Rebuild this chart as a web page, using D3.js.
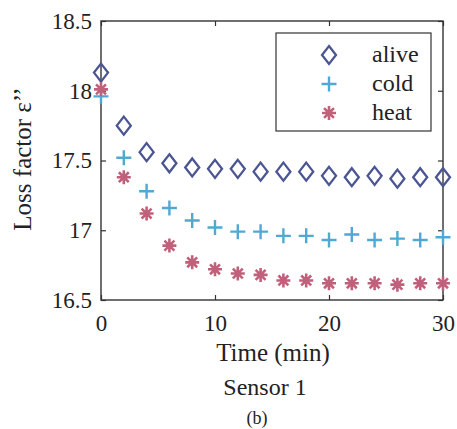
<!DOCTYPE html>
<html>
<head>
<meta charset="utf-8">
<script src="https://cdn.jsdelivr.net/npm/d3@7"></script>
<style>
  body { margin: 0; background: #fff; }
  svg text { font-family: "Liberation Serif", "Times New Roman", serif !important; fill: #222; }
</style>
</head>
<body>
<svg width="457" height="429"></svg>
<script>
// time points (min)
const times = [0, 2, 4, 6, 8, 10, 12, 14, 16, 18, 20, 22, 24, 26, 28, 30];
// loss factor values
const alive = [18.13, 17.75, 17.56, 17.48, 17.45, 17.44, 17.44, 17.42, 17.42, 17.42, 17.39, 17.38, 17.39, 17.37, 17.38, 17.38];
const cold = [17.96, 17.52, 17.28, 17.16, 17.07, 17.02, 16.99, 16.99, 16.96, 16.96, 16.93, 16.97, 16.93, 16.94, 16.93, 16.95];
const heat = [18.01, 17.38, 17.12, 16.89, 16.77, 16.72, 16.69, 16.68, 16.64, 16.64, 16.62, 16.62, 16.62, 16.61, 16.62, 16.62];
const xTicks = [0, 10, 20, 30];
const yTicks = [16.5, 17, 17.5, 18, 18.5];
const seriesNames = ['alive', 'cold', 'heat'];

const svg = d3.select('svg');
const margin = { left: 101, right: 14, top: 21, bottom: 129 };
const W = 457, H = 429;

const x = d3.scaleLinear().domain([0, 30]).range([margin.left, W - margin.right]);
const y = d3.scaleLinear().domain([16.5, 18.5]).range([H - margin.bottom, margin.top]);

const axisColor = '#333';

// frame
svg.append('rect')
  .attr('x', x(0)).attr('y', y(18.5))
  .attr('width', x(30) - x(0)).attr('height', y(16.5) - y(18.5))
  .attr('fill', 'none').attr('stroke', axisColor).attr('stroke-width', 1.4);

// axes with inward ticks
const gBottom = svg.append('g').attr('transform', `translate(0,${y(16.5)})`)
  .call(d3.axisBottom(x).tickValues(xTicks).tickSize(-5).tickPadding(15).tickFormat(d3.format('d')));
const gLeft = svg.append('g').attr('transform', `translate(${x(0)},0)`)
  .call(d3.axisLeft(y).tickValues(yTicks).tickSize(-5).tickPadding(9).tickFormat((d) => d3.format('')(d)));
const gTop = svg.append('g').attr('transform', `translate(0,${y(18.5)})`)
  .call(d3.axisTop(x).tickValues(xTicks).tickSize(-5).tickFormat(''));
const gRight = svg.append('g').attr('transform', `translate(${x(30)},0)`)
  .call(d3.axisRight(y).tickValues(yTicks).tickSize(-5).tickFormat(''));

[gBottom, gLeft, gTop, gRight].forEach((g) => {
  g.attr('font-family', null).attr('font-size', null);
  g.select('.domain').remove();
  g.selectAll('line').attr('stroke', axisColor).attr('stroke-width', 1.2);
  g.selectAll('text').style('font-size', '23px').attr('fill', '#222');
});

// marker shapes
const colors = { alive: '#4b5592', cold: '#4fa9d2', heat: '#c1607b' };

function drawMarker(g, name, cx, cy) {
  if (name === 'alive') {
    g.append('path')
      .attr('d', `M${cx},${cy - 9}L${cx + 7},${cy}L${cx},${cy + 9}L${cx - 7},${cy}Z`)
      .attr('fill', 'none').attr('stroke', colors.alive).attr('stroke-width', 2.3);
  } else if (name === 'cold') {
    g.append('path')
      .attr('d', `M${cx - 7.5},${cy}H${cx + 7.5}M${cx},${cy - 7.5}V${cy + 7.5}`)
      .attr('stroke', colors.cold).attr('stroke-width', 2.4);
  } else {
    const r = 7;
    let d = '';
    for (let i = 0; i < 4; i++) {
      const a = (i * Math.PI) / 4;
      d += `M${cx - r * Math.sin(a)},${cy - r * Math.cos(a)}L${cx + r * Math.sin(a)},${cy + r * Math.cos(a)}`;
    }
    g.append('path').attr('d', d)
      .attr('stroke', colors.heat).attr('stroke-width', 2.6);
  }
}

const data = { alive: alive, cold: cold, heat: heat };
const marks = svg.append('g');
seriesNames.forEach((name) => {
  times.forEach((t, i) => drawMarker(marks, name, x(t), y(data[name][i])));
});

// legend
const lg = svg.append('g');
lg.append('rect').attr('x', 276).attr('y', 33).attr('width', 155).attr('height', 98)
  .attr('fill', '#fff').attr('stroke', axisColor).attr('stroke-width', 1.2);
seriesNames.forEach((name, i) => {
  const cy = 55 + i * 29;
  drawMarker(lg, name, 329, cy);
  lg.append('text').attr('x', 372).attr('y', cy + 7).style('font-size', '24px').text(name);
});

// titles
svg.append('text').attr('x', 273).attr('y', 361).attr('text-anchor', 'middle')
  .style('font-size', '25px').text('Time (min)');
svg.append('text').attr('x', 265).attr('y', 395).attr('text-anchor', 'middle')
  .style('font-size', '24px').text('Sensor 1');
svg.append('text').attr('x', 257).attr('y', 424).attr('text-anchor', 'middle')
  .style('font-size', '18px').text('(b)');
svg.append('text').attr('transform', `translate(31,159) rotate(-90)`)
  .attr('text-anchor', 'middle').style('font-size', '25px').text('Loss factor ε\u2019\u2019');
</script>
</body>
</html>
